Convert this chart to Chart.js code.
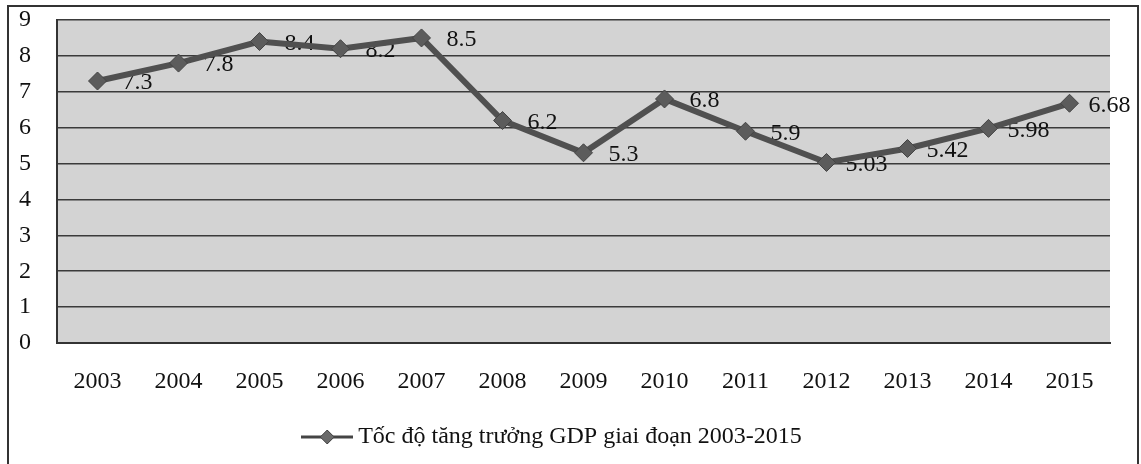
<!DOCTYPE html>
<html>
<head>
<meta charset="utf-8">
<script src="https://cdn.jsdelivr.net/npm/chart.js@4.4.0/dist/chart.umd.min.js"></script>
<style>
  html, body { margin: 0; padding: 0; background: #fff; }
  #wrap { width: 1141px; height: 464px; position: relative; }
</style>
</head>
<body>
<div id="wrap"><canvas id="c" width="1141" height="464"></canvas></div>
<script>
const years = ['2003','2004','2005','2006','2007','2008','2009','2010','2011','2012','2013','2014','2015'];
const gdpGrowth = [7.3, 7.8, 8.4, 8.2, 8.5, 6.2, 5.3, 6.8, 5.9, 5.03, 5.42, 5.98, 6.68];
const valueLabels = ['7.3','7.8','8.4','8.2','8.5','6.2','5.3','6.8','5.9','5.03','5.42','5.98','6.68'];
const seriesName = 'Tốc độ tăng trưởng GDP giai đoạn 2003-2015';

const FONT = '"Liberation Serif", "Times New Roman", serif';

// legend marker: line with diamond
const marker = document.createElement('canvas');
marker.width = 52; marker.height = 20;
(function(){
  const m = marker.getContext('2d');
  m.strokeStyle = '#444'; m.lineWidth = 3;
  m.beginPath(); m.moveTo(0, 10); m.lineTo(52, 10); m.stroke();
  m.fillStyle = '#6a6a6a'; m.strokeStyle = '#444'; m.lineWidth = 1;
  m.beginPath(); m.moveTo(26, 3); m.lineTo(33, 10); m.lineTo(26, 17); m.lineTo(19, 10); m.closePath();
  m.fill(); m.stroke();
})();

const bgPlugin = {
  id: 'bg',
  beforeDraw(chart) {
    const ctx = chart.ctx, a = chart.chartArea;
    ctx.save();
    ctx.fillStyle = '#fff';
    ctx.fillRect(0, 0, chart.width, chart.height);
    ctx.strokeStyle = '#333';
    ctx.lineWidth = 2;
    ctx.strokeRect(8, 6, 1130, 470);
    ctx.fillStyle = '#d3d3d3';
    ctx.fillRect(a.left, a.top, a.right - a.left, a.bottom - a.top);
    ctx.restore();
  }
};

const labelPlugin = {
  id: 'vlabels',
  beforeDatasetsDraw(chart) {
    const ctx = chart.ctx;
    const meta = chart.getDatasetMeta(0);
    ctx.save();
    ctx.font = '24px ' + FONT;
    ctx.fillStyle = '#111';
    ctx.textAlign = 'center';
    ctx.textBaseline = 'middle';
    meta.data.forEach((p, i) => {
      ctx.fillText(valueLabels[i], p.x + 40, p.y + 2);
    });
    ctx.restore();
  }
};

new Chart(document.getElementById('c'), {
  type: 'line',
  data: {
    labels: years,
    datasets: [{
      label: seriesName,
      data: gdpGrowth,
      borderColor: '#505050',
      borderWidth: 6,
      pointStyle: 'rectRot',
      pointRadius: 9,
      pointBackgroundColor: '#5c5c5c',
      pointBorderColor: '#444',
      pointBorderWidth: 1,
      tension: 0,
      fill: false
    }]
  },
  options: {
    responsive: false,
    animation: false,
    devicePixelRatio: 1,
    layout: { padding: { top: 20, right: 31, left: 0, bottom: 5 } },
    plugins: {
      tooltip: { enabled: false },
      legend: {
        display: true,
        position: 'bottom',
        labels: {
          usePointStyle: true,
          pointStyle: marker,
          pointStyleWidth: 38,
          color: '#111',
          font: { family: FONT, size: 24 },
          padding: 10,
          generateLabels(chart) {
            return [{ text: seriesName, pointStyle: marker, fillStyle: '#555', strokeStyle: '#555', lineWidth: 0, datasetIndex: 0, fontColor: '#111' }];
          }
        }
      }
    },
    scales: {
      x: {
        offset: true,
        grid: { display: false, drawTicks: false },
        border: { display: true, color: '#333', width: 2 },
        ticks: { color: '#111', font: { family: FONT, size: 24 }, padding: 24, maxRotation: 0 },
        afterFit(s) { s.height = 72; s.paddingLeft = 0; s.paddingRight = 0; }
      },
      y: {
        min: 0, max: 9,
        grid: { color: '#3a3a3a', lineWidth: 1.5, drawTicks: false },
        border: { display: true, color: '#333', width: 2 },
        ticks: { stepSize: 1, color: '#111', font: { family: FONT, size: 24 }, padding: 26 },
        afterFit(s) { s.width = 57; s.paddingTop = 0; s.paddingBottom = 0; }
      }
    }
  },
  plugins: [bgPlugin, labelPlugin]
});
</script>
</body>
</html>
